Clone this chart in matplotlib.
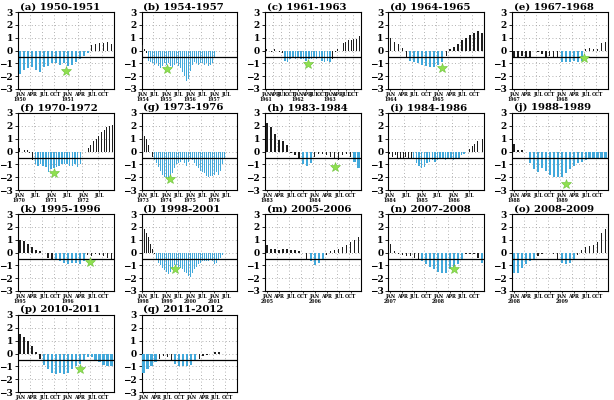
import numpy as np
from matplotlib import pyplot as plt

# ---- panel data (monthly anomalies) ----
titles = ['(a) 1950-1951', '(b) 1954-1957', '(c) 1961-1963', '(d) 1964-1965', '(e) 1967-1968',
          '(f) 1970-1972', '(g) 1973-1976', '(h) 1983-1984', '(i) 1984-1986', '(j) 1988-1989',
          '(k) 1995-1996', '(l) 1998-2001', '(m) 2005-2006', '(n) 2007-2008', '(o) 2008-2009',
          '(p) 2010-2011', '(q) 2011-2012']
start_years = [1950, 1954, 1961, 1964, 1967, 1970, 1973, 1983, 1984, 1988,
               1995, 1998, 2005, 2007, 2008, 2010, 2011]
label_steps = [3, 6, 3, 3, 3, 6, 6, 3, 6, 3, 3, 6, 3, 3, 3, 3, 3]

vals_a = [-1.8, -1.5, -1.4, -1.3, -1.5, -1.7, -1.3, -1.2, -1.0, -1.0, -1.1, -1.0,
          -1.2, -1.1, -0.9, -0.7, -0.4, -0.2, 0.4, 0.5, 0.6, 0.6, 0.7, 0.5]
vals_b = [0.4, 0.1, -0.2, -0.8, -0.9, -1.0, -1.1, -1.0, -1.2, -1.4, -1.2, -1.0,
          -1.1, -1.0, -1.2, -1.3, -1.1, -1.0, -1.2, -1.4, -1.7, -2.0, -2.4, -2.2,
          -1.6, -1.1, -0.9, -1.0, -1.1, -1.0, -1.0, -1.1, -1.0, -1.2, -1.1, -1.0,
          -0.6, -0.2, 0.3, 0.5, 0.6, 0.8, 0.8, 0.7, 0.8, 0.8, 1.1, 1.4]
vals_c = [0.1, 0.1, -0.1, 0.1, 0.0, -0.1, -0.2, -0.8, -0.9, -0.7, -0.6, -0.7,
          -0.6, -0.7, -0.7, -0.8, -0.7, -0.7, -0.6, -0.7, -0.6, -0.8, -0.9, -0.8,
          -0.9, -0.7, -0.1, 0.1, 0.0, 0.6, 0.7, 0.8, 0.8, 0.9, 0.9, 1.1]
vals_d = [1.0, 0.7, 0.5, 0.2, -0.6, -0.8, -0.9, -1.0, -1.1, -1.2, -1.3, -1.3,
          -1.1, -0.9, -0.4, 0.1, 0.3, 0.5, 0.8, 1.0, 1.2, 1.4, 1.5, 1.4]
vals_e = [-0.5, -0.6, -0.4, -0.5, -0.6, 0.0, -0.1, -0.3, -0.5, -0.4, -0.5, -0.5,
          -0.9, -0.9, -0.9, -0.8, -0.9, -0.8, 0.1, 0.2, 0.1, 0.1, 0.6, 0.7]
vals_f = [0.3, 0.2, 0.1, 0.1, -0.1, -0.7, -1.0, -1.1, -1.0, -1.1, -1.2, -1.6,
          -1.4, -1.3, -1.2, -1.1, -1.0, -1.0, -1.0, -1.1, -1.1, -1.0, -1.2, -1.0,
          -0.1, 0.0, 0.3, 0.5, 0.8, 1.0, 1.2, 1.5, 1.7, 1.9, 2.0, 2.1]
vals_g = [1.6, 1.2, 1.0, 0.5, 0.0, -0.4, -0.7, -0.9, -1.2, -1.5, -1.8, -2.0,
          -2.1, -2.2, -2.0, -1.7, -1.3, -1.0, -0.9, -0.8, -0.7, -0.9, -1.1, -0.8,
          -0.6, -0.7, -0.9, -1.1, -1.3, -1.5, -1.6, -1.7, -1.9, -2.0, -1.9, -1.9,
          -1.8, -1.6, -1.8, -1.5, -1.0, -0.6, -0.2, 0.1, 0.4, 0.6, 0.7, 0.6]
vals_h = [2.2, 1.9, 1.4, 0.9, 0.8, 0.5, -0.1, -0.3, -0.6, -1.0, -1.1, -0.9,
          -0.4, -0.2, -0.2, -0.3, -0.4, -0.5, -0.7, -0.3, -0.2, -0.4, -0.8, -1.3]
vals_i = [-0.2, -0.4, -0.3, -0.5, -0.6, -0.5, -0.4, -0.5, -0.6, -0.6, -0.9, -1.1,
          -1.3, -1.2, -0.9, -0.8, -0.7, -0.8, -0.7, -0.6, -0.6, -0.7, -0.6, -0.6,
          -0.7, -0.6, -0.5, -0.3, -0.2, 0.0, 0.2, 0.4, 0.6, 0.8, 1.0, 1.0]
vals_j = [0.6, 0.1, 0.1, 0.0, -0.9, -1.4, -1.6, -1.3, -1.5, -1.8, -2.0, -2.0,
          -2.0, -1.7, -1.4, -1.1, -0.9, -0.8, -0.7, -0.6, -0.5, -0.5, -0.5, -0.5]
vals_k = [1.0, 0.9, 0.7, 0.4, 0.2, 0.1, 0.0, -0.4, -0.5, -0.6, -0.7, -0.8,
          -0.9, -0.8, -0.8, -0.9, -0.7, -0.2, -0.3, -0.1, -0.2, -0.3, -0.4, -0.5]
vals_l = [2.0, 1.8, 1.5, 1.2, 0.7, 0.3, -0.1, -0.6, -0.8, -1.0, -1.2, -1.4,
          -1.5, -1.7, -1.5, -1.3, -1.0, -1.0, -1.1, -1.2, -1.3, -1.5, -1.6, -1.8,
          -1.9, -1.6, -1.3, -1.1, -0.9, -0.8, -0.7, -0.7, -0.7, -0.7, -0.6, -0.7,
          -0.9, -0.8, -0.6, -0.4, -0.2, -0.1, 0.0, -0.1, -0.1, -0.2, -0.3, -0.4]
vals_m = [0.6, 0.3, 0.3, 0.2, 0.3, 0.3, 0.2, 0.2, 0.1, 0.0, -0.6, -0.7,
          -1.0, -0.8, -0.6, -0.2, 0.1, 0.2, 0.3, 0.4, 0.6, 0.8, 1.0, 1.2]
vals_n = [0.7, 0.1, -0.1, -0.2, -0.3, -0.3, -0.4, -0.6, -0.7, -0.9, -1.1, -1.3,
          -1.5, -1.6, -1.6, -1.3, -1.1, -0.9, -0.6, -0.1, -0.1, -0.1, -0.4, -0.8]
vals_o = [-1.6, -1.6, -1.2, -0.9, -0.7, -0.6, -0.3, -0.1, 0.0, 0.0, -0.1, -0.5,
          -0.8, -0.9, -0.8, -0.5, -0.2, 0.2, 0.4, 0.5, 0.6, 0.8, 1.5, 1.8]
vals_p = [1.5, 1.3, 1.0, 0.6, 0.1, -0.4, -0.9, -1.2, -1.5, -1.6, -1.5, -1.6,
          -1.5, -1.2, -1.0, -0.8, -0.5, -0.3, -0.3, -0.5, -0.7, -0.9, -1.0, -1.0]
vals_q = [-1.5, -1.2, -1.0, -0.7, -0.4, -0.2, -0.3, -0.5, -0.8, -1.0, -1.0, -1.0,
          -0.9, -0.6, -0.4, -0.2, -0.1, 0.0, 0.1, 0.1, 0.0, 0.0, 0.0, 0.0]

all_vals = [vals_a, vals_b, vals_c, vals_d, vals_e, vals_f, vals_g, vals_h, vals_i,
            vals_j, vals_k, vals_l, vals_m, vals_n, vals_o, vals_p, vals_q]

# La Nina months (inclusive index ranges) drawn in blue
blue_runs = [[(0, 17)], [(3, 36)], [(7, 24)], [(5, 13)], [(12, 17)],
             [(6, 23)], [(6, 41)], [(9, 11), (22, 23)], [(9, 28)], [(4, 23)],
             [(9, 16)], [(7, 40)], [(11, 14)], [(8, 18), (23, 23)], [(0, 5), (12, 15)],
             [(6, 23)], [(0, 3), (8, 13)]]

# green star (month index, value); None where the panel has none
stars = [(11.6, -1.6), (12.1, -1.45), (15.8, -1.05), (13.0, -1.35), (17.6, -0.6),
         (13.1, -1.7), (14.0, -2.15), (17.2, -1.2), None, (13.0, -2.5),
         (17.5, -0.75), (16.4, -1.25), None, (15.9, -1.3), None,
         (15.0, -1.2), None]

months = ['JAN', 'FEB', 'MAR', 'APR', 'MAY', 'JUN', 'JUL', 'AUG', 'SEP', 'OCT', 'NOV', 'DEC']

BLUE = '#42a9db'
DARK = '#1e1e1e'
STAR = '#8fe04f'

W, H = 614, 400
col_left = [18, 141.5, 265, 388.5, 512]
row_top = [12, 113, 214, 315]
ax_w, ax_h = 95.5, 77

fig = plt.figure(figsize=(W / 100, H / 100), dpi=100)

for k, vals in enumerate(all_vals):
    r, c = divmod(k, 5)
    ax = fig.add_axes([col_left[c] / W, 1 - (row_top[r] + ax_h) / H, ax_w / W, ax_h / H])
    n = len(vals)
    x = np.arange(n)
    is_blue = np.zeros(n, dtype=bool)
    for s, e in blue_runs[k]:
        is_blue[s:e + 1] = True
    colors = [BLUE if b else DARK for b in is_blue]
    widths = [0.55 if b else 0.35 for b in is_blue]
    ax.bar(x, vals, width=widths, color=colors, zorder=3)
    ax.axhline(-0.5, color='k', lw=0.9, zorder=4)

    step = label_steps[k]
    tpos = list(range(0, n, step))
    tlab = []
    for t in tpos:
        lab = months[t % 12]
        if t % 12 == 0:
            lab += '\n' + str(start_years[k] + t // 12)
        tlab.append(lab)
    for t in tpos[1:]:
        ax.axvline(t - 0.5, color='#999999', ls=(0, (1, 3)), lw=0.6, zorder=1)
    for yv in range(-2, 3):
        ax.axhline(yv, color='#999999', ls=(0, (1, 3)), lw=0.6, zorder=1)

    if stars[k] is not None:
        ax.plot(stars[k][0], stars[k][1], marker='*', ms=7, color=STAR,
                mec='#6cc13a', mew=0.4, zorder=5)

    ax.set_xlim(-0.5, n - 0.5)
    ax.set_ylim(-3, 3)
    ax.set_yticks(range(-3, 4))
    ax.set_yticklabels([str(v) if v >= 0 else '\u2212' + str(-v) for v in range(-3, 4)],
                       fontsize=6.5, fontweight='bold', family='DejaVu Serif')
    ax.set_xticks(tpos)
    ax.set_xticklabels(tlab, fontsize=3.3, fontweight='bold', family='DejaVu Serif',
                       linespacing=0.9, va='top')
    ax.tick_params(axis='y', length=2.5, width=0.6, pad=1)
    ax.tick_params(axis='x', length=1.5, width=0.5, pad=1)
    for sp in ax.spines.values():
        sp.set_linewidth(0.8)
    ax.text(0.02, 1.01, titles[k], transform=ax.transAxes, fontsize=7.3,
            fontweight='bold', family='DejaVu Serif', ha='left', va='bottom')

fig.savefig('out.png', dpi=100)
